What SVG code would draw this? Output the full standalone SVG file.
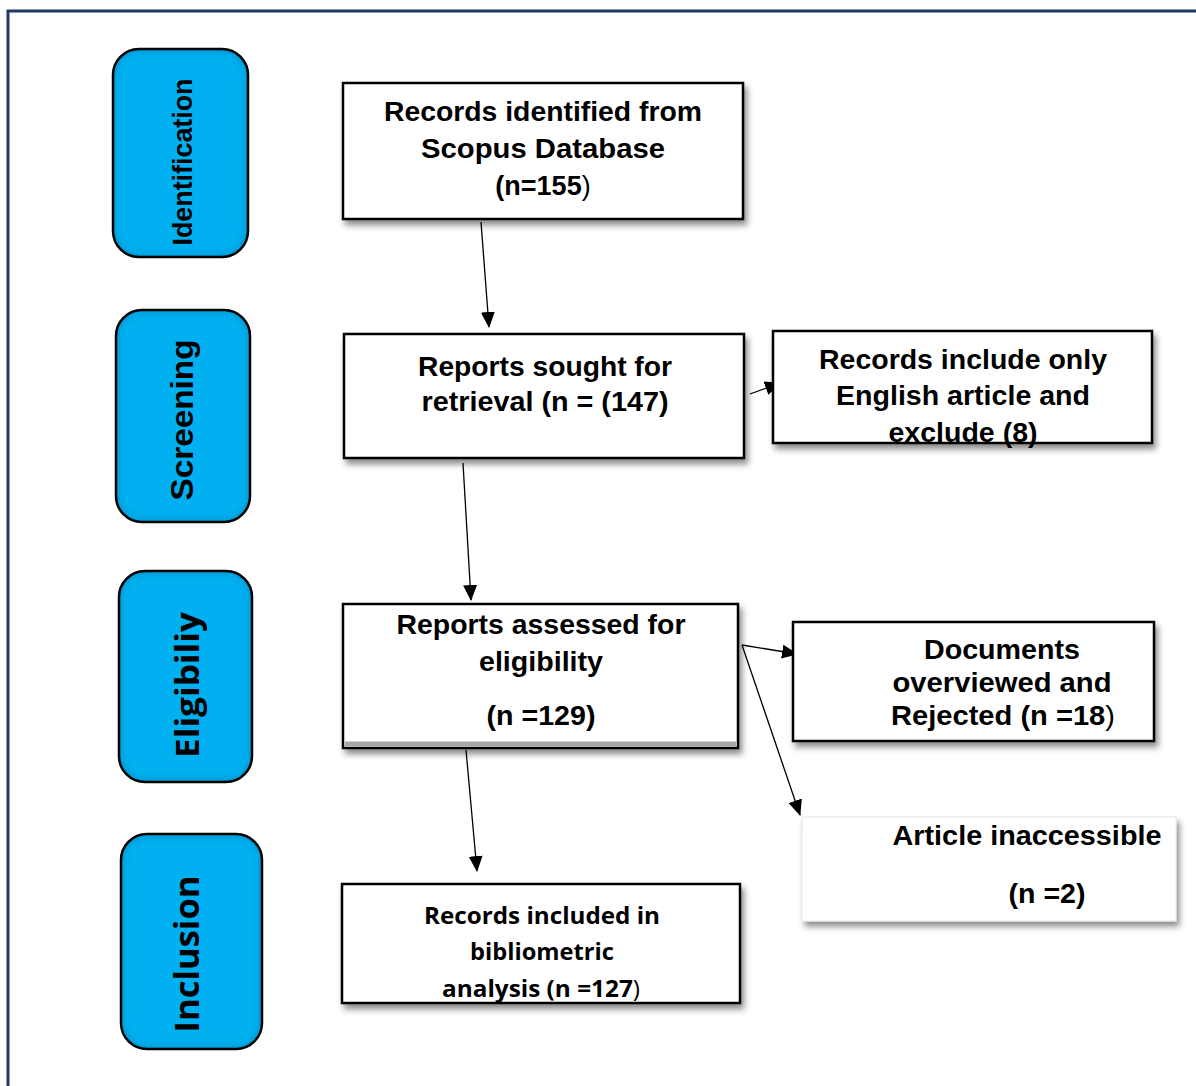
<svg xmlns="http://www.w3.org/2000/svg" width="1196" height="1086" viewBox="0 0 1196 1086">
<style>
.frame{stroke:#1f3864;stroke-width:3;fill:none}
.phase{fill:#00b0f0}
.phase-stroke{fill:none;stroke:#000;stroke-width:2.5}
.ptxt{font-family:"Liberation Sans",Arial,sans-serif;font-weight:bold;fill:#000;text-anchor:middle;dominant-baseline:central}
.ptxt2{font-family:"Open Sans","Liberation Sans",sans-serif;font-weight:bold;fill:#000;text-anchor:middle;dominant-baseline:central}
.box{fill:#fff;stroke:#000;stroke-width:2.5}
.t{font-family:"Liberation Sans",Arial,sans-serif;font-weight:bold;font-size:27px;fill:#000;text-anchor:middle}
.tn{font-family:"Liberation Sans Narrow","Liberation Sans",Arial,sans-serif;font-weight:bold;font-size:28px;fill:#000;text-anchor:middle}
.tc{font-family:"Open Sans","Liberation Sans",sans-serif;font-weight:bold;font-size:23px;fill:#000;text-anchor:middle}
.reg{font-weight:normal}
.conn{stroke:#000;stroke-width:1.3;fill:none;marker-end:url(#arrow)}
</style>
<defs>
<marker id="arrow" markerUnits="userSpaceOnUse" markerWidth="16" markerHeight="14" refX="15" refY="7" orient="auto">
<path d="M0,0 L16,7 L0,14 Z" fill="#000"/>
</marker>
<filter id="shadow" x="-10%" y="-10%" width="130%" height="140%">
<feDropShadow dx="3" dy="5" stdDeviation="3" flood-color="#000" flood-opacity="0.45"/>
</filter>
<filter id="inner" x="-5%" y="-5%" width="110%" height="110%">
<feFlood flood-color="#00557a" flood-opacity="0.7" result="f"/>
<feComposite in="f" in2="SourceAlpha" operator="out" result="o"/>
<feGaussianBlur in="o" stdDeviation="5" result="b"/>
<feComposite in="b" in2="SourceAlpha" operator="in" result="s"/>
<feMerge><feMergeNode in="SourceGraphic"/><feMergeNode in="s"/></feMerge>
</filter>
</defs>
<rect width="1196" height="1086" fill="#fff"/>
<path class="frame" d="M8,1086 L8,11 L1196,11"/>

<g id="phase-identification">
<rect class="phase" x="113" y="49" width="135" height="208" rx="26" filter="url(#inner)"/>
<rect class="phase-stroke" x="113" y="49" width="135" height="208" rx="26"/>
<text class="ptxt" font-size="27" transform="translate(183,162) rotate(-90)" textLength="167" lengthAdjust="spacingAndGlyphs">Identification</text>
</g>
<g id="phase-screening">
<rect class="phase" x="116" y="310" width="134" height="212" rx="26" filter="url(#inner)"/>
<rect class="phase-stroke" x="116" y="310" width="134" height="212" rx="26"/>
<text class="ptxt" font-size="32" transform="translate(182,420) rotate(-90)" textLength="161" lengthAdjust="spacingAndGlyphs">Screening</text>
</g>
<g id="phase-eligibility">
<rect class="phase" x="119" y="571" width="133" height="211" rx="26" filter="url(#inner)"/>
<rect class="phase-stroke" x="119" y="571" width="133" height="211" rx="26"/>
<text class="ptxt2" font-size="33" transform="translate(186,685) rotate(-90)" textLength="146" lengthAdjust="spacingAndGlyphs">Eligibiliy</text>
</g>
<g id="phase-inclusion">
<rect class="phase" x="121" y="834" width="141" height="215" rx="26" filter="url(#inner)"/>
<rect class="phase-stroke" x="121" y="834" width="141" height="215" rx="26"/>
<text class="ptxt2" font-size="34" transform="translate(186,954) rotate(-90)" textLength="157" lengthAdjust="spacingAndGlyphs">Inclusion</text>
</g>

<g id="connectors">
<line class="conn" x1="481" y1="222" x2="489" y2="327"/>
<line class="conn" x1="463" y1="463" x2="471" y2="600"/>
<line class="conn" x1="750" y1="394" x2="780" y2="383"/>
<line class="conn" x1="742" y1="645" x2="797" y2="654"/>
<line class="conn" x1="742" y1="645" x2="800" y2="815"/>
<line class="conn" x1="466" y1="750" x2="477" y2="871"/>
</g>

<g id="node-identified">
<rect class="box" x="343" y="83" width="400" height="136" filter="url(#shadow)"/>
<text class="t" x="543" y="121" textLength="318" lengthAdjust="spacingAndGlyphs">Records identified from</text>
<text class="t" x="543" y="158" textLength="244" lengthAdjust="spacingAndGlyphs">Scopus Database</text>
<text class="t" x="543" y="195">(n=155<tspan class="reg">)</tspan></text>
</g>
<g id="node-sought">
<rect class="box" x="344" y="334" width="400" height="124" filter="url(#shadow)"/>
<text class="tn" x="545" y="376" textLength="254" lengthAdjust="spacingAndGlyphs">Reports sought for</text>
<text class="tn" x="545" y="411" textLength="247" lengthAdjust="spacingAndGlyphs">retrieval (n = (147)</text>
</g>
<g id="node-english">
<rect class="box" x="773" y="331" width="379" height="112" filter="url(#shadow)"/>
<text class="tn" x="963" y="369" textLength="288" lengthAdjust="spacingAndGlyphs">Records include only</text>
<text class="tn" x="963" y="405" textLength="254" lengthAdjust="spacingAndGlyphs">English article and</text>
<text class="tn" x="963" y="442" textLength="149" lengthAdjust="spacingAndGlyphs">exclude (8)</text>
</g>
<g id="node-assessed">
<rect class="box" x="343" y="604" width="395" height="144" filter="url(#shadow)"/>
<line x1="345" y1="744" x2="736" y2="744" stroke="#a6a6a6" stroke-width="5"/>
<text class="tn" x="541" y="634" textLength="289" lengthAdjust="spacingAndGlyphs">Reports assessed for</text>
<text class="tn" x="541" y="671" textLength="124" lengthAdjust="spacingAndGlyphs">eligibility</text>
<text class="tn" x="541" y="725" textLength="109" lengthAdjust="spacingAndGlyphs">(n =129)</text>
</g>
<g id="node-rejected">
<rect class="box" x="793" y="622" width="361" height="119" filter="url(#shadow)"/>
<text class="tn" x="1002" y="659" textLength="156" lengthAdjust="spacingAndGlyphs">Documents</text>
<text class="tn" x="1002" y="692" textLength="219" lengthAdjust="spacingAndGlyphs">overviewed and</text>
<text class="tn" x="1003" y="725" textLength="224" lengthAdjust="spacingAndGlyphs">Rejected (n =18<tspan class="reg">)</tspan></text>
</g>
<g id="node-inaccessible">
<rect x="802" y="817" width="374" height="104" fill="#fff" stroke="#e6e6e6" stroke-width="1" filter="url(#shadow)"/>
<text class="t" x="1027" y="845" textLength="269" lengthAdjust="spacingAndGlyphs">Article inaccessible</text>
<text class="t" x="1047" y="903" textLength="77" lengthAdjust="spacingAndGlyphs">(n =2)</text>
</g>
<g id="node-included">
<rect class="box" x="342" y="884" width="398" height="119" filter="url(#shadow)"/>
<text class="tc" x="542" y="924" textLength="236" lengthAdjust="spacingAndGlyphs">Records included in</text>
<text class="tc" x="542" y="960" textLength="144" lengthAdjust="spacingAndGlyphs">bibliometric</text>
<text class="tc" x="541" y="997" textLength="198" lengthAdjust="spacingAndGlyphs">analysis (n =127<tspan class="reg">)</tspan></text>
</g>
</svg>
